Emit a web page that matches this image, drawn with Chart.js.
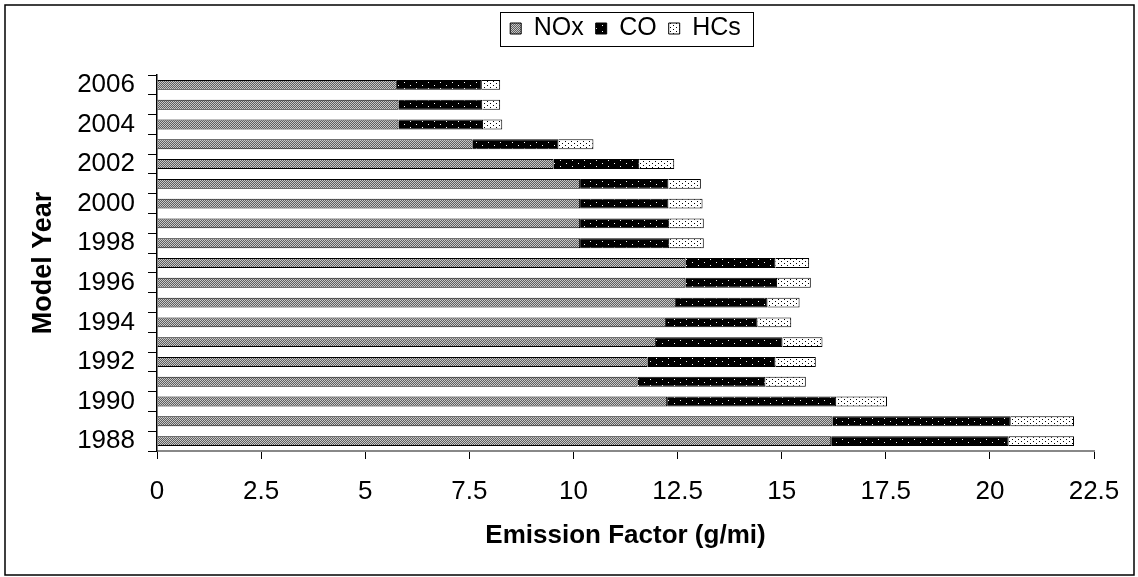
<!DOCTYPE html>
<html>
<head>
<meta charset="utf-8">
<script src="https://cdn.jsdelivr.net/npm/chart.js@4.4.0/dist/chart.umd.min.js"></script>
<style>
  body { margin: 0; background: #fff; }
  #wrap { position: relative; width: 1138px; height: 577px; }
</style>
</head>
<body>
<div id="wrap"><canvas id="emission-factor-chart"></canvas></div>
<script>
// model years, newest at the top like the original
const modelYears = ["2006","2005","2004","2003","2002","2001","2000","1999","1998","1997",
                    "1996","1995","1994","1993","1992","1991","1990","1989","1988"];
const noxValues = [5.76, 5.80, 5.80, 7.58, 9.52, 10.16, 10.16, 10.16, 10.16, 12.69,
                   12.69, 12.46, 12.22, 11.98, 11.78, 11.54, 12.25, 16.22, 16.19];
const coValues  = [2.04, 2.01, 2.03, 2.06, 2.06, 2.12, 2.12, 2.14, 2.14, 2.16,
                   2.20, 2.20, 2.20, 3.04, 3.07, 3.07, 4.06, 4.28, 4.26];
const hcValues  = [0.44, 0.43, 0.46, 0.84, 0.84, 0.78, 0.82, 0.83, 0.83, 0.81,
                   0.81, 0.77, 0.81, 0.96, 0.97, 0.97, 1.22, 1.52, 1.57];
const xMax = 22.5;
const xStep = 2.5;

Chart.defaults.font.family = '"Liberation Sans", Arial, sans-serif';
Chart.defaults.color = '#000';

// little bitmap fills, like the old excel hatch patterns
function makePattern(w, h, bg, fg, dots) {
  const c = document.createElement('canvas');
  c.width = w; c.height = h;
  const g = c.getContext('2d');
  g.fillStyle = bg;
  g.fillRect(0, 0, w, h);
  g.fillStyle = fg;
  dots.forEach(d => g.fillRect(d[0], d[1], 1, 1));
  return g.createPattern(c, 'repeat');
}
const noxFill = makePattern(2, 2, '#5e5e5e', '#c8c8c8', [[0,0],[1,1]]);
const coFill  = makePattern(12, 6, '#000', '#fff', [[2,1],[8,4]]);
const hcFill  = makePattern(6, 4, '#fff', '#000', [[1,1],[4,3]]);

const framePlugin = {
  id: 'frame',
  afterDraw(chart) {
    const ctx = chart.ctx;
    ctx.save();
    ctx.strokeStyle = '#000';
    ctx.lineWidth = 1.5;
    ctx.strokeRect(5, 5, chart.width - 9, chart.height - 7);
    // box round the legend
    const hb = chart.legend.legendHitBoxes;
    if (hb && hb.length) {
      const first = hb[0], last = hb[hb.length - 1];
      const cy = first.top + first.height / 2;
      const l = first.left - 10, r = last.left + last.width + 12;
      ctx.lineWidth = 1;
      ctx.strokeRect(Math.round(l) + 0.5, Math.round(cy - 17) + 0.5, Math.round(r - l), 34);
    }
    ctx.restore();
  }
};

new Chart("emission-factor-chart", {
  type: "bar",
  data: {
    labels: modelYears,
    datasets: [
      { label: "NOx", data: noxValues, backgroundColor: noxFill, borderColor: "#000", borderWidth: 1 },
      { label: "CO",  data: coValues,  backgroundColor: coFill,  borderColor: "#000", borderWidth: 1 },
      { label: "HCs", data: hcValues,  backgroundColor: hcFill,  borderColor: "#000", borderWidth: 1 }
    ]
  },
  options: {
    indexAxis: "y",
    responsive: true,
    maintainAspectRatio: false,
    animation: false,
    layout: { padding: { top: 4, right: 44, bottom: 0, left: 0 } },
    datasets: { bar: { barPercentage: 0.5, categoryPercentage: 1 } },
    plugins: {
      legend: {
        position: "top",
        fullSize: false,
        labels: {
          font: { size: 25 },
          boxWidth: 11,
          boxHeight: 11,
          padding: 12
        }
      },
      subtitle: { display: true, text: "", weight: 0, padding: 0, font: { size: 20 } },
      tooltip: { enabled: false }
    },
    scales: {
      x: {
        stacked: true,
        min: 0,
        max: xMax,
        ticks: { stepSize: xStep, font: { size: 26 }, padding: 17 },
        grid: { drawOnChartArea: false, drawTicks: true, tickLength: 8, color: "#000" },
        border: { color: "#888", width: 2 },
        title: {
          display: true,
          text: "Emission Factor (g/mi)",
          font: { size: 26, weight: "bold" },
          padding: { top: 0, bottom: 26 }
        },
        afterFit(scale) { scale.height = 126; }
      },
      y: {
        stacked: true,
        ticks: {
          autoSkip: false,
          font: { size: 26 },
          padding: 13,
          callback(value, index) { return index % 2 === 0 ? this.getLabelForValue(value) : ""; }
        },
        grid: { offset: true, drawOnChartArea: false, tickLength: 9, color: "#000" },
        border: { color: "#000", width: 1.5 },
        title: {
          display: true,
          text: "Model Year",
          font: { size: 27, weight: "bold" },
          padding: { top: 27, bottom: 0 }
        },
        afterFit(scale) { scale.width = 157; }
      }
    }
  },
  plugins: [framePlugin]
});
</script>
</body>
</html>
